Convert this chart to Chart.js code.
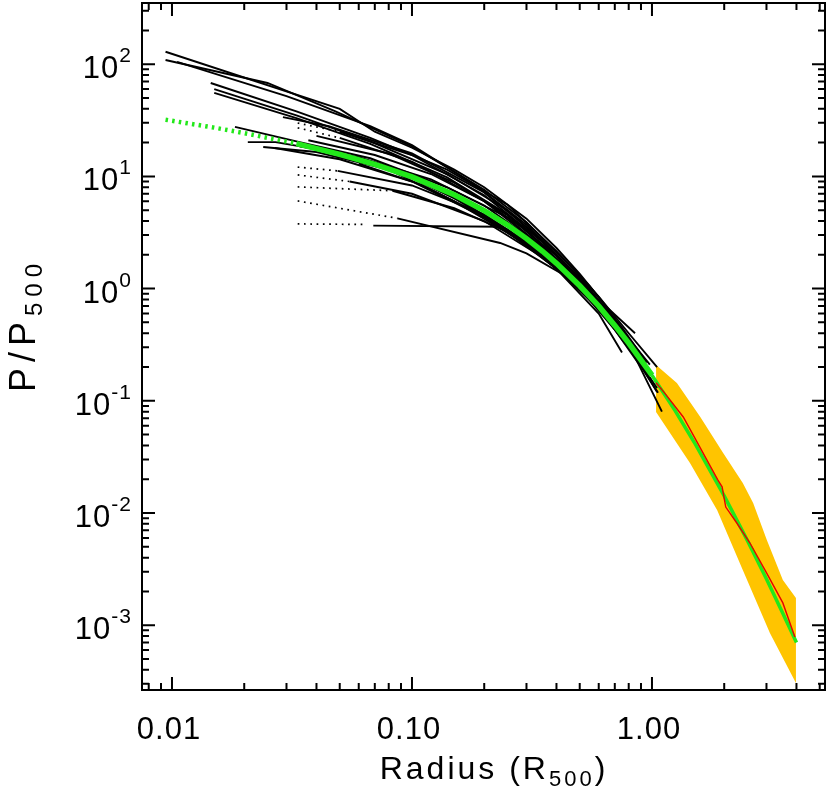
<!DOCTYPE html>
<html>
<head>
<meta charset="utf-8">
<script src="https://cdn.jsdelivr.net/npm/chart.js@4.4.1/dist/chart.umd.min.js"></script>
<style>
  html, body { margin: 0; padding: 0; background: #fff; }
  canvas { display: block; }
</style>
</head>
<body>
<canvas id="profiles" width="830" height="792"></canvas>
<script>
// axis ranges: R/R500 and P/P500
const xRange = [0.0075, 5.26];
const yRange = [2.645e-4, 351];
const xTickValues = [0.01, 0.1, 1];
const xTickLabels = ['0.01', '0.10', '1.00'];
const yTickExponents = [2, 1, 0, -1, -2, -3];

// mean profile (green): dotted extrapolation, then the fit
const fitInnerR = [0.0094, 0.015, 0.02, 0.033];
const fitInnerP = [32, 27.2, 24.3, 19.6];
const fitR = [0.033, 0.05, 0.07, 0.1, 0.15, 0.2, 0.25, 0.3, 0.35, 0.4, 0.5, 0.6, 0.7, 0.8, 1.0];
const fitP = [19.6, 15.7, 12.8, 9.9, 6.85, 4.95, 3.68, 2.79, 2.15, 1.68, 1.06, 0.70, 0.47, 0.327, 0.169];
const fitOuterR = [1.0, 1.25, 1.5, 2.0, 2.5, 3.0, 3.5, 4.0];
const fitOuterP = [0.169, 0.0814, 0.0427, 0.0142, 0.00567, 0.00258, 0.00129, 0.0007];

// simulations: median (red) and dispersion (orange)
const simR = [1.04, 1.13, 1.35, 1.54, 1.88, 1.96, 2.03, 2.26, 2.56, 3.01, 3.51, 3.94];
const simP = [0.145, 0.117, 0.0717, 0.043, 0.0197, 0.0171, 0.0113, 0.0081, 0.0054, 0.0029, 0.00158, 0.000785];
const bandHighR = [1.04, 1.27, 1.59, 1.98, 2.39, 2.64, 3.01, 3.51, 3.98];
const bandHighP = [0.208, 0.144, 0.0717, 0.0343, 0.0185, 0.0123, 0.00574, 0.00253, 0.00175];
const bandLowR = [1.04, 1.44, 1.87, 2.39, 3.1, 3.98];
const bandLowP = [0.0794, 0.0279, 0.0106, 0.0031, 0.00085, 0.000305];

// individual cluster profiles [r, P]
const clusters = [
  [[0.0094, 129], [0.05, 40], [0.07, 25], [0.1, 18], [0.15, 11.5], [0.2, 8.0], [0.3, 4.2], [0.4, 2.3], [0.5, 1.35], [0.65, 0.68], [0.85, 0.4]],
  [[0.0094, 109], [0.025, 68], [0.048, 38], [0.1, 18.5], [0.2, 7.6], [0.3, 3.9], [0.45, 1.65], [0.6, 0.85], [0.8, 0.4], [1.05, 0.2]],
  [[0.0105, 105], [0.03, 52], [0.067, 28], [0.1, 19], [0.18, 8.6], [0.3, 3.7], [0.45, 1.55], [0.6, 0.78], [0.8, 0.36], [0.98, 0.21]],
  [[0.0145, 68], [0.033, 38], [0.067, 22], [0.14, 11.5], [0.25, 5.6], [0.4, 2.15], [0.55, 1.05], [0.75, 0.45], [0.95, 0.22]],
  [[0.015, 60], [0.033, 35], [0.067, 20.5], [0.14, 10.5], [0.25, 5.0], [0.4, 2.0], [0.55, 0.98], [0.75, 0.4], [1.0, 0.17]],
  [[0.015, 55.6], [0.033, 33], [0.067, 19.5], [0.14, 9.8], [0.25, 4.6], [0.4, 1.85], [0.6, 0.76], [0.8, 0.31], [1.05, 0.12]],
  [[0.0183, 27.6], [0.033, 20.5], [0.067, 14.5], [0.14, 8], [0.25, 4.3], [0.4, 1.8], [0.6, 0.7], [0.8, 0.3], [1.06, 0.118]],
  [[0.0207, 20.2], [0.027, 20.2], [0.04, 17.5], [0.08, 12], [0.15, 6.4], [0.25, 3.3], [0.4, 1.5], [0.6, 0.6], [0.75, 0.27]],
  [[0.024, 18.3], [0.04, 16.5], [0.08, 11.5], [0.15, 6.0], [0.3, 2.5], [0.5, 1.0], [0.7, 0.43], [0.9, 0.2]],
  [[0.0268, 17.9], [0.05, 14.2], [0.1, 9.0], [0.2, 4.3], [0.35, 1.95], [0.55, 0.85], [0.75, 0.36], [1.0, 0.15]],
  [[0.029, 33.7], [0.045, 28], [0.1, 16], [0.2, 7.2], [0.35, 2.7], [0.55, 1.0], [0.8, 0.32], [1.1, 0.08]],
  [[0.037, 21], [0.07, 15.5], [0.12, 10.5], [0.2, 6.0], [0.3, 3.3], [0.45, 1.45], [0.65, 0.58], [0.9, 0.23]],
  [[0.04, 23], [0.08, 16], [0.15, 8.8], [0.25, 4.5], [0.4, 1.95], [0.6, 0.74], [0.85, 0.28]],
  [[0.045, 17], [0.09, 11], [0.17, 5.6], [0.3, 2.6], [0.5, 1.05], [0.7, 0.45], [1.0, 0.17]],
  [[0.06, 13], [0.11, 8.4], [0.2, 4.4], [0.35, 1.95], [0.55, 0.9], [0.8, 0.35]],
  [[0.034, 18.5], [0.06, 14.8], [0.12, 9.4], [0.2, 5.5], [0.35, 2.35], [0.5, 1.15], [0.7, 0.5], [0.95, 0.22]],
  [[0.05, 25], [0.1, 15.5], [0.2, 6.8], [0.35, 2.6], [0.5, 1.25], [0.7, 0.53], [0.9, 0.24]],
  [[0.05, 22], [0.1, 13.5], [0.2, 6.0], [0.35, 2.35], [0.55, 0.95], [0.75, 0.4]],
  [[0.049, 11.2], [0.1, 8.3], [0.2, 4.6], [0.35, 2.1], [0.55, 0.9], [0.75, 0.38], [0.95, 0.19]],
  [[0.055, 9.0], [0.1, 7.0], [0.2, 4.0], [0.35, 1.9], [0.55, 0.86], [0.8, 0.3]],
  [[0.083, 7.45], [0.15, 5.2], [0.25, 3.2], [0.4, 1.5], [0.6, 0.66], [0.85, 0.25], [1.05, 0.13]],
  [[0.087, 4.23], [0.233, 2.55], [0.3, 2.06], [0.45, 1.25], [0.65, 0.56], [0.85, 0.26]],
  [[0.069, 3.64], [0.233, 3.56], [0.25, 3.35], [0.376, 1.8], [0.5, 1.1], [0.7, 0.47], [0.9, 0.21]]
];
// inner parts measured only in projection (dotted)
const clustersInner = [
  [[0.0334, 29.9], [0.05, 25]],
  [[0.0334, 27.1], [0.05, 22]],
  [[0.0334, 12.1], [0.049, 11.2]],
  [[0.0334, 10.3], [0.055, 9.0]],
  [[0.0334, 8.05], [0.083, 7.45]],
  [[0.0334, 6.04], [0.087, 4.23]],
  [[0.0334, 3.77], [0.063, 3.73]]
];

const FONT = '"Liberation Sans", Arial, sans-serif';
const GREEN = '#22e81a';
const ORANGE = '#ffc400';

const zip = (rs, ps) => rs.map((r, i) => ({x: r, y: ps[i]}));
const toXY = list => list.map(([x, y]) => ({x, y}));

const datasets = [];
datasets.push({data: zip(simR, simP), borderColor: '#e80000', borderWidth: 1.4, order: 0});
datasets.push({data: zip(fitOuterR, fitOuterP), borderColor: GREEN, borderWidth: 3.5, order: 1});
datasets.push({data: zip(fitR, fitP), borderColor: GREEN, borderWidth: 5.5, order: 1});
datasets.push({data: zip(fitInnerR, fitInnerP), borderColor: GREEN, borderWidth: 4.5, borderDash: [2.5, 4.2], order: 1});
clusters.forEach(c => datasets.push({data: toXY(c), borderColor: '#000', borderWidth: 1.9, order: 2}));
clustersInner.forEach(c => datasets.push({data: toXY(c), borderColor: '#000', borderWidth: 1.7, borderDash: [1.7, 4.6], order: 2}));
datasets.push({
  data: zip(bandHighR, bandHighP).concat(zip(bandLowR, bandLowP).reverse()),
  borderWidth: 0, borderColor: ORANGE, backgroundColor: ORANGE, fill: 'shape', order: 3
});

// text with a sub/superscript part, left aligned at x
function drawScripted(ctx, parts, x, y, spacing) {
  ctx.letterSpacing = spacing + 'px';
  let w = 0;
  parts.forEach(p => {
    ctx.font = p.size + 'px ' + FONT;
    ctx.fillText(p.text, x + w, y + p.dy);
    w += ctx.measureText(p.text).width;
  });
  ctx.letterSpacing = '0px';
}
function widthOf(ctx, parts, spacing) {
  ctx.letterSpacing = spacing + 'px';
  let w = 0;
  parts.forEach(p => { ctx.font = p.size + 'px ' + FONT; w += ctx.measureText(p.text).width; });
  ctx.letterSpacing = '0px';
  return w;
}

const frame = {
  id: 'frame',
  afterDraw(chart) {
    const {ctx, chartArea: a, scales: {x, y}} = chart;
    ctx.save();
    ctx.strokeStyle = '#000';
    ctx.fillStyle = '#000';
    ctx.lineWidth = 2;
    ctx.strokeRect(a.left, a.top, a.right - a.left, a.bottom - a.top);

    ctx.beginPath();
    for (let e = -3; e <= 0; e++) {
      for (let m = 1; m <= 9; m++) {
        const v = m * Math.pow(10, e);
        if (v < xRange[0] || v > xRange[1]) continue;
        const px = x.getPixelForValue(v);
        const len = m === 1 ? 13 : 7;
        ctx.moveTo(px, a.bottom); ctx.lineTo(px, a.bottom - len);
        ctx.moveTo(px, a.top); ctx.lineTo(px, a.top + len);
      }
    }
    for (let e = -4; e <= 2; e++) {
      for (let m = 1; m <= 9; m++) {
        const v = m * Math.pow(10, e);
        if (v < yRange[0] || v > yRange[1]) continue;
        const py = y.getPixelForValue(v);
        const len = m === 1 ? 13 : 7;
        ctx.moveTo(a.left, py); ctx.lineTo(a.left + len, py);
        ctx.moveTo(a.right, py); ctx.lineTo(a.right - len, py);
      }
    }
    ctx.stroke();

    // tick labels
    ctx.textAlign = 'left';
    ctx.textBaseline = 'alphabetic';
    xTickValues.forEach((v, i) => {
      const parts = [{text: xTickLabels[i], size: 31, dy: 0}];
      const w = widthOf(ctx, parts, 1);
      drawScripted(ctx, parts, x.getPixelForValue(v) - 3 - w / 2, 739, 1);
    });
    yTickExponents.forEach(e => {
      const sup = e < 0 ? '-' + Math.abs(e) : String(e);
      const parts = [{text: '10', size: 31, dy: 14}, {text: sup, size: 21, dy: -2}];
      const w = widthOf(ctx, parts, 1);
      drawScripted(ctx, parts, a.left - 10 - w, y.getPixelForValue(Math.pow(10, e)), 1);
    });

    // x title
    const xt = [{text: 'Radius (R', size: 32, dy: 0}, {text: '500', size: 22, dy: 7}, {text: ')', size: 32, dy: 0}];
    drawScripted(ctx, xt, 494 - widthOf(ctx, xt, 3) / 2, 779, 3);

    // y title
    ctx.translate(35, 325);
    ctx.rotate(-Math.PI / 2);
    const yt = [{text: 'P/P', size: 36, dy: 0}, {text: '500', size: 24, dy: 7}];
    drawScripted(ctx, yt, -widthOf(ctx, yt, 6) / 2, 0, 6);
    ctx.restore();
  }
};

new Chart(document.getElementById('profiles'), {
  type: 'line',
  data: {datasets},
  options: {
    responsive: false,
    devicePixelRatio: 1,
    animation: false,
    layout: {padding: {left: 142, right: 5, top: 3, bottom: 102}},
    elements: {point: {radius: 0}, line: {tension: 0, fill: false, borderCapStyle: 'butt'}},
    plugins: {legend: {display: false}, tooltip: {enabled: false}},
    scales: {
      x: {type: 'logarithmic', min: xRange[0], max: xRange[1], display: false},
      y: {type: 'logarithmic', min: yRange[0], max: yRange[1], display: false}
    }
  },
  plugins: [frame]
});
</script>
</body>
</html>
